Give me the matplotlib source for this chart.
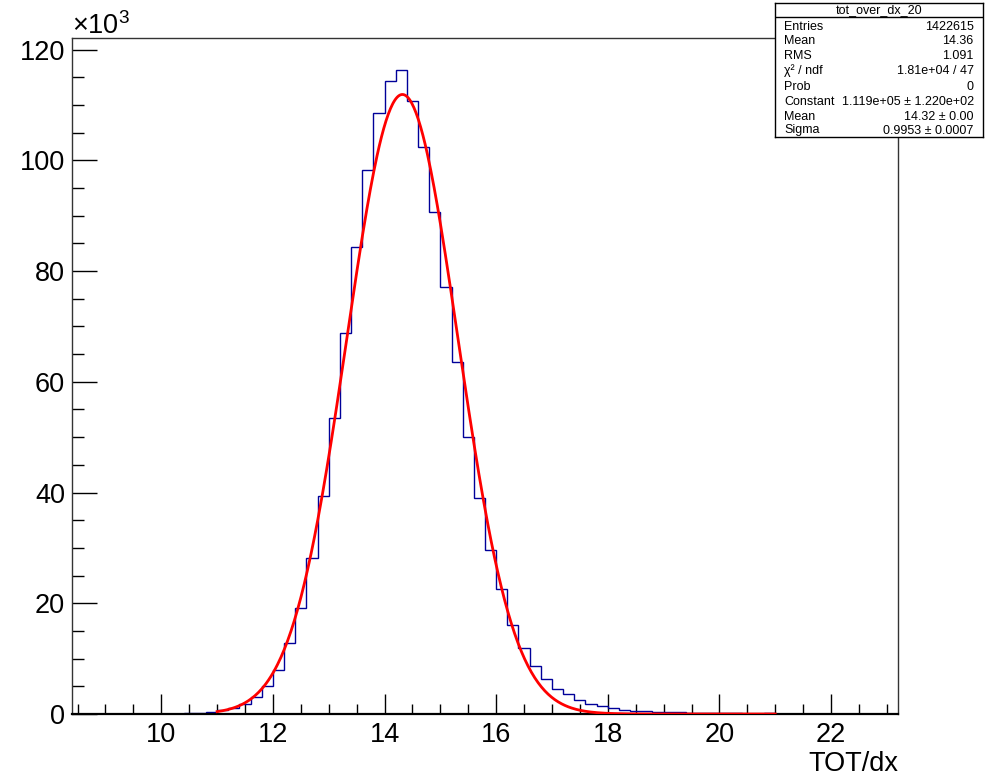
import numpy as np
import matplotlib
matplotlib.use("Agg")
import matplotlib.pyplot as plt
from matplotlib.ticker import MultipleLocator, FixedLocator

plt.rcParams['font.family'] = ['Liberation Sans', 'DejaVu Sans']

# Histogram: bin edges every 0.2 from 8.4 to 23.2, counts in units of 10^3
BIN_LO, BIN_HI, BIN_W = 8.4, 23.2, 0.2
counts_k = [
    0.0, 0.0, 0.0, 0.0, 0.005, 0.01, 0.02, 0.03, 0.05, 0.08, 0.12,   # 8.4 - 10.6
    0.2, 0.45, 0.75, 1.15, 1.8, 3.1, 5.0,                            # 10.6 - 12.0
    8.0, 12.9, 19.1, 28.2, 39.4,                                     # 12.0 - 13.0
    53.4, 68.8, 84.4, 98.2, 108.6,                                   # 13.0 - 14.0
    114.3, 116.4, 110.8, 102.4, 90.6,                                # 14.0 - 15.0
    77.1, 63.5, 50.1, 39.1, 29.6,                                    # 15.0 - 16.0
    22.5, 16.0, 11.9, 8.75, 6.3,                                     # 16.0 - 17.0
    4.5, 3.6, 2.5, 1.8, 1.4,                                         # 17.0 - 18.0
    1.0, 0.75, 0.6, 0.5, 0.4,                                        # 18.0 - 19.0
    0.35, 0.3, 0.27, 0.24, 0.2,                                      # 19.0 - 20.0
    0.18, 0.15, 0.02, 0.02, 0.12,                                    # 20.0 - 21.0
    0.02, 0.02, 0.02, 0.02, 0.02, 0.02, 0.02, 0.02, 0.02, 0.02, 0.02,  # 21.0 - 23.2
]
edges = np.round(np.arange(BIN_LO, BIN_HI + BIN_W / 2, BIN_W), 3)

# Gaussian fit parameters (from the stats box), fit range 11 - 21
FIT_CONST = 111.9   # x10^3
FIT_MEAN = 14.32
FIT_SIGMA = 0.9953
FIT_RANGE = (11.0, 21.0)

stats_title = "tot_over_dx_20"
stats_labels = ["Entries", "Mean", "RMS", "χ² / ndf", "Prob",
                "Constant", "Mean", "Sigma"]
stats_values = ["1422615", "14.36", "1.091", "1.81e+04 / 47", "0",
                "1.119e+05 ± 1.220e+02", "14.32 ± 0.00", "0.9953 ± 0.0007"]

x_major = [10, 12, 14, 16, 18, 20, 22]
y_major = [0, 20, 40, 60, 80, 100, 120]

W, H = 987, 776
fig = plt.figure(figsize=(W / 100, H / 100), dpi=100)
ax = fig.add_axes([72 / W, (H - 714) / H, (898 - 72) / W, (714 - 38) / H])

ax.stairs(counts_k, edges, color='#000099', linewidth=1.0, baseline=0, zorder=2)

# fitted gaussian, drawn over the fit range only
xf = np.linspace(FIT_RANGE[0], FIT_RANGE[1], 500)
yf = FIT_CONST * np.exp(-0.5 * ((xf - FIT_MEAN) / FIT_SIGMA) ** 2)
ax.plot(xf, yf, color='#ff0000', linewidth=2.0, zorder=3)

ax.set_xlim(BIN_LO, BIN_HI)
ax.set_ylim(0, 122.1)

ax.xaxis.set_major_locator(FixedLocator(x_major))
ax.xaxis.set_minor_locator(MultipleLocator(0.5))
ax.yaxis.set_major_locator(FixedLocator(y_major))
ax.yaxis.set_minor_locator(MultipleLocator(5))
ax.tick_params(axis='both', which='both', direction='in', colors='black',
               width=1.0, top=False, right=False, labelsize=19.5)
ax.tick_params(axis='x', which='major', length=14.4, pad=6)
ax.tick_params(axis='x', which='minor', length=7.2)
ax.tick_params(axis='y', which='major', length=17.8, pad=5)
ax.tick_params(axis='y', which='minor', length=8.6)

for side in ['left', 'top', 'right']:
    ax.spines[side].set_linewidth(1.0)
    ax.spines[side].set_color('#333333')
ax.spines['bottom'].set_linewidth(1.6)
ax.spines['bottom'].set_color('black')

fig.text(72 / W, (H - 34) / H, r'$\mathregular{×10^{3}}$', fontsize=19.5,
         ha='left', va='baseline')
fig.text(898 / W, (H - 771) / H, 'TOT/dx', fontsize=19.5,
         ha='right', va='baseline')

# Stats box (ROOT style), pixel rows converted to box coords
sb = fig.add_axes([775 / W, (H - 137) / H, (983 - 775) / W, (137 - 3) / H])
sb.set_xlim(0, 1)
sb.set_ylim(0, 1)
sb.set_xticks([])
sb.set_yticks([])
sb.set_facecolor('white')
for s in sb.spines.values():
    s.set_linewidth(1.0)
    s.set_color('black')
box_h = 137 - 3
sb.axhline(1 - (17 - 3) / box_h, color='black', linewidth=1.0)
sb.text(0.5, 1 - (13.3 - 3) / box_h, stats_title, fontsize=9,
        ha='center', va='baseline')
row_y = [26.7, 41.5, 56, 71, 87, 101.7, 116.5, 130.5]
for yy, lab, val in zip(row_y, stats_labels, stats_values):
    yc = 1 - (yy - 3) / box_h
    sb.text(0.045, yc, lab, fontsize=9, ha='left', va='center')
    sb.text(0.955, yc, val, fontsize=9, ha='right', va='center')

fig.savefig('out.png', dpi=100)
